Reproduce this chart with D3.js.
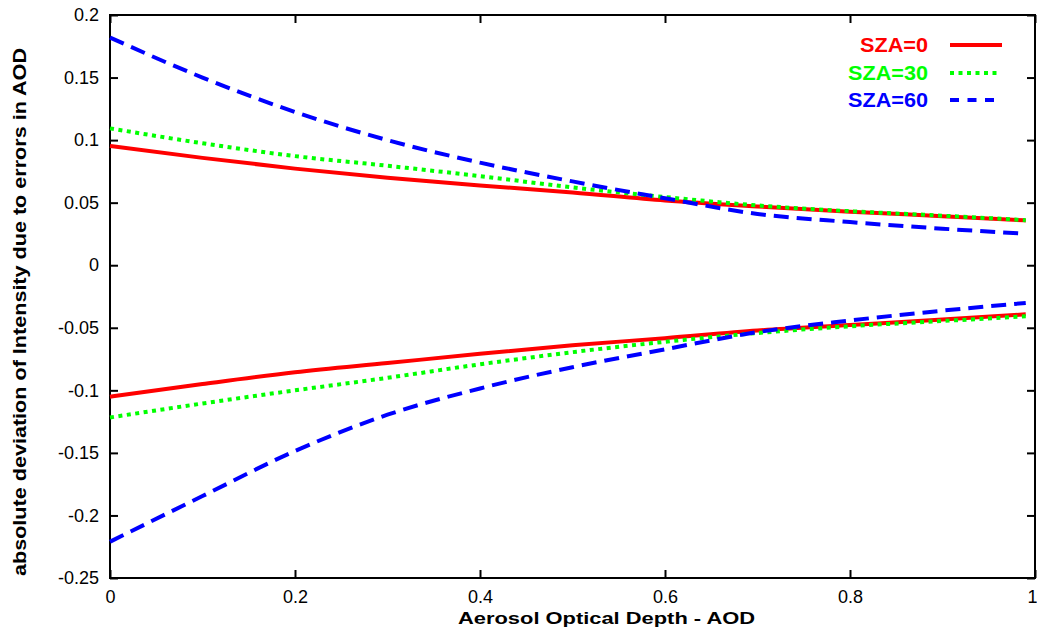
<!DOCTYPE html>
<html>
<head>
<meta charset="utf-8">
<script src="https://cdn.jsdelivr.net/npm/d3@7"></script>
<style>
  html, body { margin: 0; padding: 0; background: #fff; }
  svg { display: block; font-family: "Liberation Sans", Arial, sans-serif; }
</style>
</head>
<body>
<svg id="chart" width="1037" height="631"></svg>
<script>
// ---- data ----
const aod = [0, 0.1, 0.2, 0.3, 0.4, 0.5, 0.6, 0.7, 0.8, 0.9, 0.99];

const sza0Upper  = [0.0953, 0.0858, 0.0772, 0.0700, 0.0638, 0.0582, 0.0518, 0.0470, 0.0428, 0.0392, 0.0358];
const sza30Upper = [0.1094, 0.0975, 0.0872, 0.0795, 0.0712, 0.0622, 0.0545, 0.0478, 0.0432, 0.0396, 0.0360];
const sza60Upper = [0.1820, 0.1500, 0.1225, 0.1000, 0.0820, 0.0670, 0.0535, 0.0410, 0.0345, 0.0292, 0.0252];

const sza0Lower  = [-0.1051, -0.0950, -0.0856, -0.0782, -0.0708, -0.0640, -0.0583, -0.0522, -0.0478, -0.0434, -0.0392];
const sza30Lower = [-0.1217, -0.1105, -0.1000, -0.0900, -0.0792, -0.0695, -0.0612, -0.0542, -0.0488, -0.0446, -0.0408];
const sza60Lower = [-0.2210, -0.1845, -0.1485, -0.1195, -0.0985, -0.0815, -0.0672, -0.0535, -0.0442, -0.0363, -0.0302];

const seriesNames = ["SZA=0", "SZA=30", "SZA=60"];
const seriesColors = ["#ff0000", "#00ff00", "#0000ff"];

const xTicks = [0, 0.2, 0.4, 0.6, 0.8, 1];
const yTicks = [0.2, 0.15, 0.1, 0.05, 0, -0.05, -0.1, -0.15, -0.2, -0.25];

const xLabel = "Aerosol Optical Depth - AOD";
const yLabel = "absolute deviation of Intensity due to errors in AOD";

// ---- layout ----
const svg = d3.select("#chart");
const L = 110, R = 1035, T = 15, B = 578;

const x = d3.scaleLinear().domain([0, 1]).range([L, R]);
const y = d3.scaleLinear().domain([-0.25, 0.2]).range([B, T]);

// axes (inward ticks on all four sides)
const fmt = d => String(d);
const axL = svg.append("g").attr("transform", `translate(${L},0)`)
  .call(d3.axisLeft(y).tickValues(yTicks).tickSize(-8).tickPadding(11).tickFormat(fmt));
const axR = svg.append("g").attr("transform", `translate(${R},0)`)
  .call(d3.axisRight(y).tickValues(yTicks).tickSize(-8).tickFormat(""));
const axB = svg.append("g").attr("transform", `translate(0,${B})`)
  .call(d3.axisBottom(x).tickValues(xTicks).tickSize(-8).tickPadding(12).tickFormat(fmt));
const axT = svg.append("g").attr("transform", `translate(0,${T})`)
  .call(d3.axisTop(x).tickValues(xTicks).tickSize(-8).tickFormat(""));

[axL, axR, axB, axT].forEach(g => {
  g.select(".domain").remove();
  g.selectAll(".tick line").attr("stroke", "#000").attr("stroke-width", 2);
  g.selectAll(".tick text").attr("font-size", 18).attr("fill", "#000")
    .attr("font-family", "'Liberation Sans', Arial, sans-serif");
});
// keep the last x tick label inside the picture, as in the reference
axB.selectAll(".tick text").filter(d => d === 1).attr("dx", -3);

// frame
svg.append("rect").attr("x", L).attr("y", T).attr("width", R - L).attr("height", B - T)
  .attr("fill", "none").attr("stroke", "#000").attr("stroke-width", 2);

// lines
const line = d3.line().x((d, i) => x(aod[i])).y(d => y(d)).curve(d3.curveMonotoneX);
const dashes = [null, "4,4.5", "15,8"];
const upper = [sza0Upper, sza30Upper, sza60Upper];
const lower = [sza0Lower, sza30Lower, sza60Lower];

const plot = svg.append("g");
[0, 1, 2].forEach(k => {
  [upper[k], lower[k]].forEach(vals => {
    plot.append("path").datum(vals)
      .attr("d", line)
      .attr("fill", "none")
      .attr("stroke", seriesColors[k])
      .attr("stroke-width", 4)
      .attr("stroke-dasharray", dashes[k])
      .attr("stroke-linecap", "butt");
  });
});

// legend
const legY = [45, 73, 100];
const legDash = [null, "4,4.5", "9,8.5"];
const legEnd = [1002, 1000, 995];
const legTextLen = [68, 80, 80];
seriesNames.forEach((name, k) => {
  svg.append("text")
    .attr("x", 928).attr("y", legY[k]).attr("dy", "0.35em")
    .attr("text-anchor", "end")
    .attr("font-size", 19.5).attr("font-weight", "bold")
    .attr("fill", seriesColors[k])
    .attr("textLength", legTextLen[k]).attr("lengthAdjust", "spacingAndGlyphs")
    .text(name);
  svg.append("line")
    .attr("x1", 950).attr("x2", legEnd[k])
    .attr("y1", legY[k]).attr("y2", legY[k])
    .attr("stroke", seriesColors[k]).attr("stroke-width", 4)
    .attr("stroke-dasharray", legDash[k]);
});

// axis titles
svg.append("text")
  .attr("x", (458 + 755) / 2).attr("y", 624)
  .attr("text-anchor", "middle")
  .attr("font-size", 17).attr("font-weight", "bold")
  .attr("textLength", 297).attr("lengthAdjust", "spacingAndGlyphs")
  .text(xLabel);

svg.append("text")
  .attr("transform", `translate(26,${(48 + 576) / 2}) rotate(-90)`)
  .attr("text-anchor", "middle")
  .attr("font-size", 17.5).attr("font-weight", "bold")
  .attr("textLength", 528).attr("lengthAdjust", "spacingAndGlyphs")
  .text(yLabel);
</script>
</body>
</html>
